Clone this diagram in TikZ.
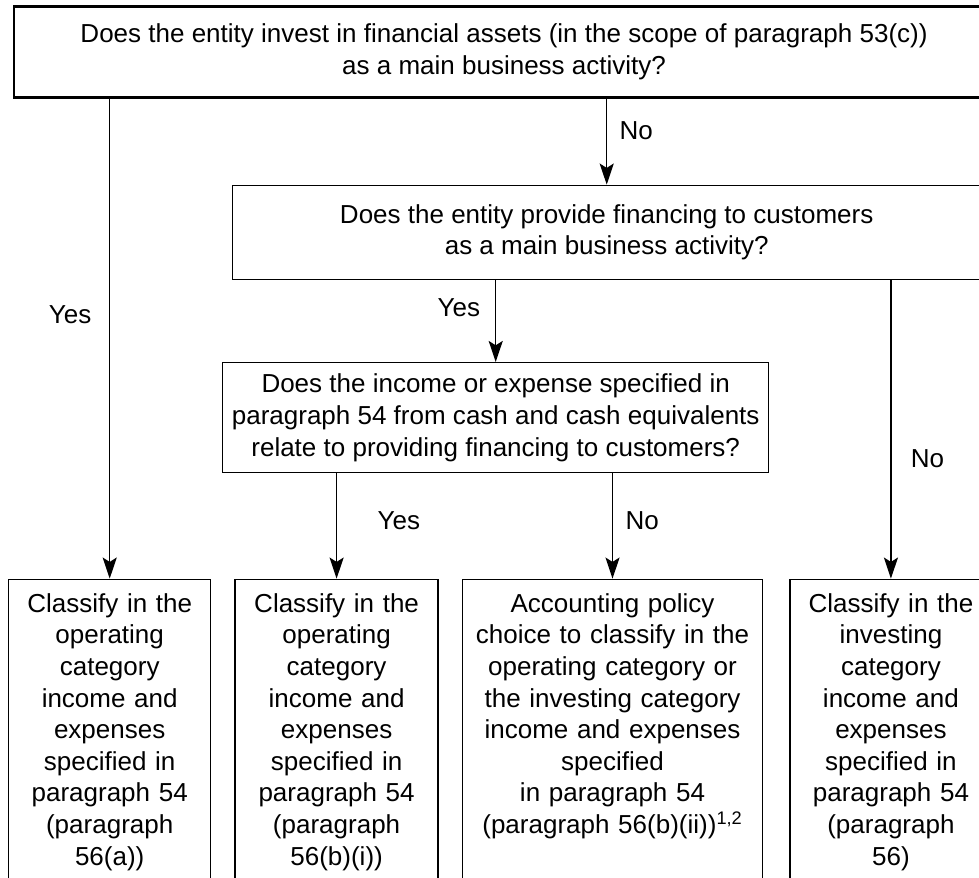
\documentclass[tikz,border=0pt]{standalone}
\usepackage{fontspec}
\setmainfont{Liberation Sans}
\usetikzlibrary{arrows.meta, positioning}

\begin{document}
\begin{tikzpicture}[font=\fontsize{14.8pt}{18pt}\selectfont]
\tikzset{% styles for the decision tree
  question/.style={rectangle, draw, line width=0.8pt, align=center, inner sep=0pt},
  outcome/.style={rectangle, draw, line width=0.8pt, align=center, inner xsep=0pt,
    inner ysep=7.7pt, text height=11pt, text depth=157pt},
  line/.style={draw, line width=0.8pt, -{Stealth[length=12pt, width=8pt, inset=2.5pt]}},
  answer/.style={inner sep=0pt},
}
\useasboundingbox (0,0) rectangle (19.58,-17.56);

\node[question, line width=1.2pt, anchor=north west, minimum width=19.6cm, minimum height=1.82cm]
  (Invest) at (0.26,-0.11)
  {Does the entity invest in financial assets (in the scope of paragraph 53(c))\\
   as a main business activity?};
\node[question, below right=1.72cm and 4.38cm of Invest.south west,
  minimum width=14.96cm, minimum height=1.88cm]
  (Providing) {Does the entity provide financing to customers\\
   as a main business activity?};
\node[question, below right=1.64cm and -0.2cm of Providing.south west,
  minimum width=10.92cm, minimum height=2.2cm]
  (Relate) {Does the income or expense specified in\\
   paragraph 54 from cash and cash equivalents\\
   relate to providing financing to customers?};

% outcomes, left to right
\node[outcome, text width=4.04cm, below right=9.6cm and -0.1cm of Invest.south west]
  (OperatingA) {Classify in the\\ operating\\ category\\ income and\\ expenses\\
   specified in\\ paragraph 54\\ (paragraph\\ 56(a))};
\node[outcome, text width=4.06cm, right=0.46cm of OperatingA]
  (OperatingB) {Classify in the\\ operating\\ category\\ income and\\ expenses\\
   specified in\\ paragraph 54\\ (paragraph\\ 56(b)(i))};
\node[outcome, text width=6cm, right=0.46cm of OperatingB]
  (Choice) {Accounting policy\\ choice to classify in the\\ operating category or\\
   the investing category\\ income and expenses\\ specified\\ in paragraph 54\\
   (paragraph 56(b)(ii))\textsuperscript{1,2}};
\node[outcome, text width=4.04cm, right=0.52cm of Choice]
  (Investing) {Classify in the\\ investing\\ category\\ income and\\ expenses\\
   specified in\\ paragraph 54\\ (paragraph\\ 56)};

\draw[line] (Invest.south -| OperatingA.north) -- (OperatingA.north)
  node[answer, pos=0.45, left=10pt] {Yes};
\draw[line] (Invest.south -| Providing.north) -- (Providing.north)
  node[answer, pos=0.37, right=7pt] {No};
\draw[line] (Providing.south -| Relate.north) -- (Relate.north)
  node[answer, pos=0.34, left=8.5pt] {Yes};
\draw[line] (Providing.south -| Investing.north) -- (Investing.north)
  node[answer, pos=0.6, right=11pt] {No};
\draw[line] (Relate.south -| OperatingB.north) -- (OperatingB.north)
  node[answer, pos=0.45, right=23pt] {Yes};
\draw[line] (Relate.south -| Choice.north) -- (Choice.north)
  node[answer, pos=0.45, right=7pt] {No};
\end{tikzpicture}
\end{document}
